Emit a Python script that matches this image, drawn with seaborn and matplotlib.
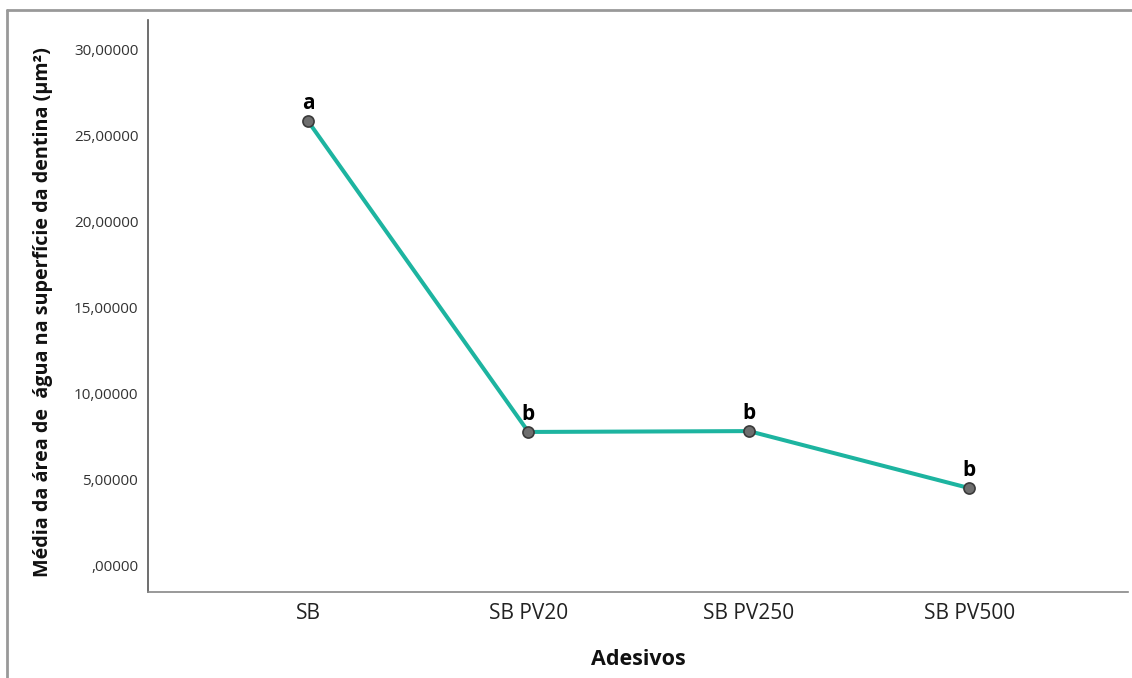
import matplotlib
matplotlib.use("Agg")
import matplotlib.pyplot as plt
import seaborn as sns
import pandas as pd
from matplotlib.lines import Line2D
from matplotlib.ticker import FuncFormatter

categories = ["SB", "SB PV20", "SB PV250", "SB PV500"]
means = [25.85, 7.75, 7.80, 4.48]
letters = ["a", "b", "b", "b"]
ytick_values = [0, 5, 10, 15, 20, 25, 30]

sns.set_theme(style="white")
plt.rcParams["font.family"] = ["Open Sans", "DejaVu Sans"]

df = pd.DataFrame({"Adesivos": categories, "Media": means})

fig = plt.figure(figsize=(11.32, 6.78), dpi=100)
ax = fig.add_axes([148/1132, 1-592/678, (1128-148)/1132, (592-20)/678])

sns.lineplot(data=df, x="Adesivos", y="Media", ax=ax, color="#1db4a0",
             linewidth=2.9, marker="o", markersize=8,
             markerfacecolor="#6e6e6e", markeredgecolor="#3a3a3a",
             markeredgewidth=1.2, sort=False)

for i, (v, t) in enumerate(zip(means, letters)):
    ax.annotate(t, (i, v), xytext=(0, 5), textcoords="offset points",
                ha="center", va="bottom", fontsize=15, fontweight="bold",
                color="black")

ax.set_xlim(-0.726, 3.72)
ax.set_ylim(-1.57, 31.74)
ax.set_yticks(ytick_values)
ax.yaxis.set_major_formatter(FuncFormatter(
    lambda v, p: (f"{v:.5f}".replace(".", ",")).lstrip("0") if v == 0 else f"{v:.5f}".replace(".", ",")))
ax.tick_params(axis="y", length=0, pad=7, labelsize=11, labelcolor="#333333")
ax.tick_params(axis="x", length=0, pad=8, labelsize=15, labelcolor="#222222")

for s in ["top", "right"]:
    ax.spines[s].set_visible(False)
ax.spines["left"].set_color("#555555")
ax.spines["bottom"].set_color("#888888")
ax.spines["left"].set_linewidth(1.2)
ax.spines["bottom"].set_linewidth(1.2)

ax.set_xlabel("Adesivos", fontsize=15.5, fontweight="bold", labelpad=18, color="#111111")
ax.set_ylabel("Média da área de  água na superfície da dentina (µm²)", fontsize=14.2,
              fontweight="bold", color="#111111")
ax.yaxis.set_label_coords(-0.097, 0.49)

# outer frame
fig.add_artist(Line2D([7/1132, 1.0], [1-9.5/678, 1-9.5/678], transform=fig.transFigure,
                      color="#999999", linewidth=2))
fig.add_artist(Line2D([7/1132, 7/1132], [0, 1-9.5/678], transform=fig.transFigure,
                      color="#999999", linewidth=2))

fig.savefig("out.png", dpi=100)
